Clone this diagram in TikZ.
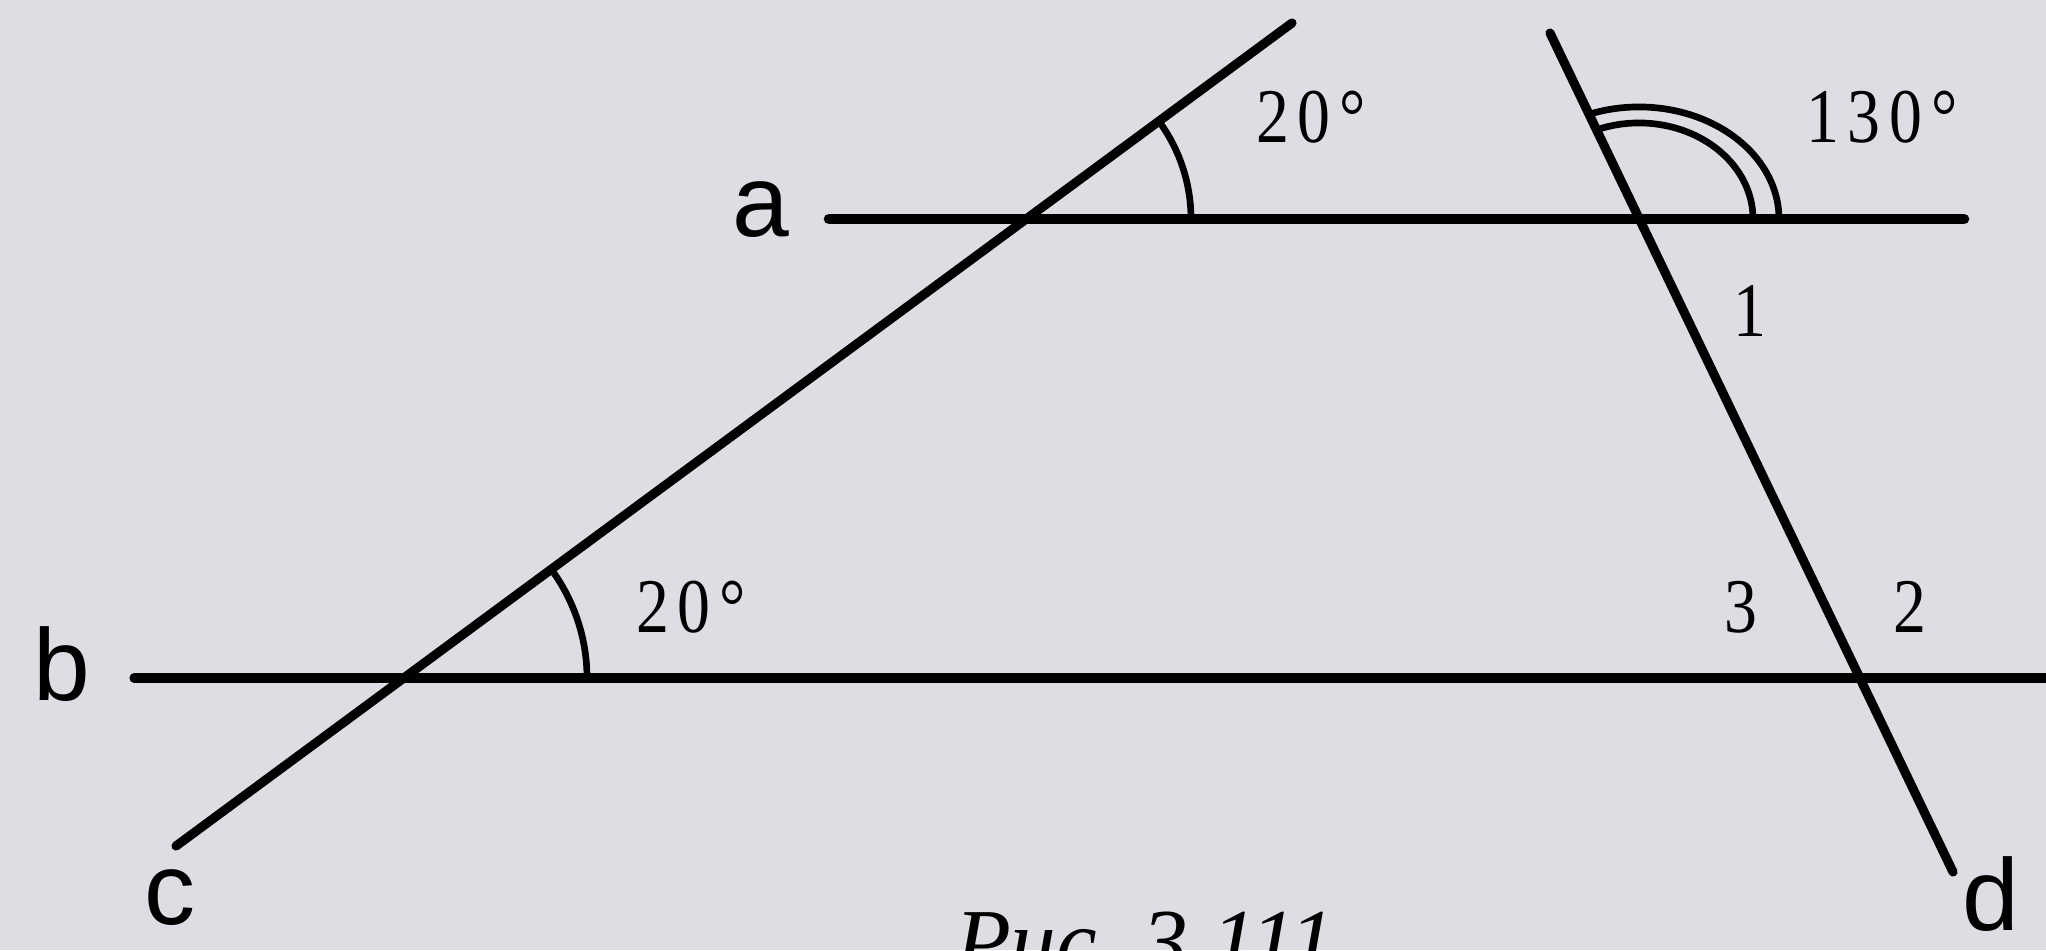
\documentclass[tikz,border=0pt]{standalone}
\usepackage{fontspec}
\setmainfont{Liberation Serif}
\newfontfamily\lsans{Liberation Sans}
\usetikzlibrary{calc}
\definecolor{paper}{RGB}{221,221,227}
\begin{document}
\begin{tikzpicture}[x=0.01cm,y=0.01cm,
  line/.style={line width=2.6pt,line cap=round},
  arcl/.style={line width=1.9pt},
  lett/.style={font=\lsans\fontsize{29}{29}\selectfont,inner sep=0pt},
  num/.style={font=\fontsize{22}{22}\selectfont,inner sep=0pt}]
\fill[paper] (0,0) rectangle (2046,950);
\useasboundingbox (0,0) rectangle (2046,950);
\clip (0,0) rectangle (2046,950);
% end points and intersections
\coordinate (aL) at (829,731);
\coordinate (aR) at (1964,731);
\coordinate (bL) at (134,272);
\coordinate (bR) at (2060,272);
\coordinate (cB) at (176,104);
\coordinate (cT) at (1292,927);
\coordinate (dT) at (1550,917);
\coordinate (dB) at (1953,78);
\coordinate (P) at (1026,731);
\coordinate (Q) at (404,272);
\coordinate (R) at (1639,731);
\coordinate (S) at (1860,272);
% lines
\draw[line,line width=3pt] (aL) -- (aR);
\draw[line] (bL) -- (bR);
\draw[line] (cB) -- (cT);
\draw[line] (dT) -- (dB);
% angle marks
\draw[arcl] ($(P)+(165,0)$) arc[start angle=0,end angle=36.4,radius=1.65cm];
\draw[arcl] ($(Q)+(183,0)$) arc[start angle=0,end angle=36.4,radius=1.83cm];
\draw[arcl] ($(R)+(140,0)$) arc[start angle=0,end angle=111,x radius=1.40cm,y radius=1.12cm];
\draw[arcl] ($(R)+(114,0)$) arc[start angle=0,end angle=112,x radius=1.14cm,y radius=0.96cm];
% letters
\node[lett] (la) at (761,740) {a};
\node[lett] (lb) at (62,286) {b};
\node[lett] (lc) at (170,52) {c};
\node[lett] (ld) at (1991,56) {d};
% numbers
\node[num] (n20a) at (1311,833) {\scalebox{0.85}[1]{2\kern3pt0\kern3pt°}};
\node[num] (n130) at (1882,833) {\scalebox{0.85}[1]{1\kern3pt3\kern3pt0\kern3pt°}};
\node[num] (n20b) at (691,343) {\scalebox{0.85}[1]{2\kern3pt0\kern3pt°}};
\node[num] (n1) at (1750,639) {\scalebox{0.85}[1]{1}};
\node[num] (n3) at (1741,343) {\scalebox{0.85}[1]{3}};
\node[num] (n2) at (1910,343) {\scalebox{0.85}[1]{2}};
% caption (cut off by the page edge)
\node[font=\itshape\fontsize{26}{26}\selectfont,inner sep=0pt,anchor=base] (cap) at (1145,-22) {Рис.\ 3.111};
\end{tikzpicture}
\end{document}
